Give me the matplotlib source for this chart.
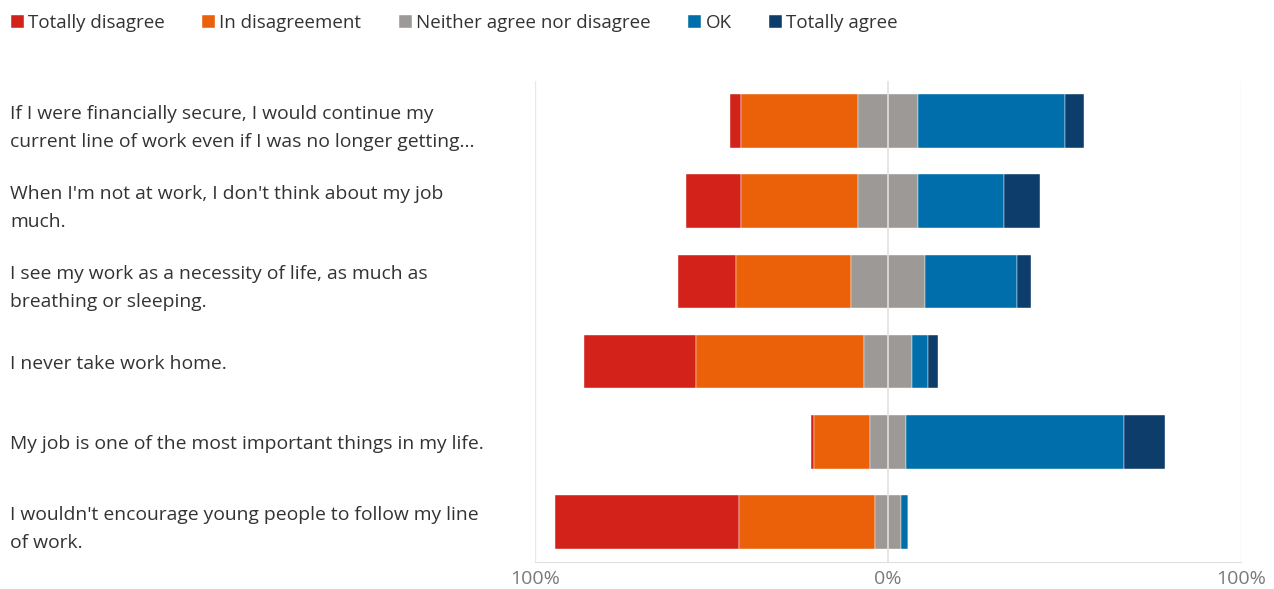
import matplotlib
matplotlib.use("Agg")
import numpy as np
import matplotlib.pyplot as plt

plt.rcParams["font.family"] = ["Open Sans", "DejaVu Sans"]

# Likert answers, in percent of respondents per statement
statements = [
    "If I were financially secure, I would continue my\ncurrent line of work even if I was no longer getting...",
    "When I'm not at work, I don't think about my job\nmuch.",
    "I see my work as a necessity of life, as much as\nbreathing or sleeping.",
    "I never take work home.",
    "My job is one of the most important things in my life.",
    "I wouldn't encourage young people to follow my line\nof work.",
]
levels = ["Totally disagree", "In disagreement", "Neither agree nor disagree", "OK", "Totally agree"]
totally_disagree = [3.0, 15.5, 16.5, 31.6, 0.7, 51.9]
disagree = [33.3, 33.3, 32.6, 47.6, 15.9, 38.6]
neutral = [16.9, 16.9, 20.7, 13.6, 10.4, 7.4]
agree = [41.8, 24.3, 26.3, 4.4, 61.7, 2.1]
totally_agree = [5.2, 10.2, 4.0, 3.1, 11.5, 0.0]

colors = ["#D2221A", "#EA610A", "#9C9997", "#006EAA", "#0D3D6B"]

td = np.array(totally_disagree)
dis = np.array(disagree)
neu = np.array(neutral)
agr = np.array(agree)
ta = np.array(totally_agree)

y = np.arange(len(statements))
h = 0.67

fig = plt.figure(figsize=(12.74, 5.89), dpi=100)
ax = fig.add_axes([535 / 1274, 27 / 589, 706 / 1274, 481 / 589])

# negative side grows left from the middle of the neutral block
left_neu = -neu / 2
left_dis = left_neu - dis
left_td = left_dis - td
left_agr = neu / 2
left_ta = left_agr + agr

segs = [(left_td, td), (left_dis, dis), (left_neu, neu), (left_agr, agr), (left_ta, ta)]
handles = []
for (lft, w), c, lab in zip(segs, colors, levels):
    b = ax.barh(y, w, left=lft, height=h, color=c, label=lab, zorder=2,
                edgecolor="white", linewidth=0.3)
    handles.append(b)

for xv in (-100, 100):
    ax.axvline(xv, color="#e8e8e8", lw=1, zorder=1)
ax.axvline(0, color="#e2e2e2", lw=1.2, zorder=3)

ax.set_xlim(-100, 100)
ax.set_ylim(len(statements) - 0.5, -0.5)
ax.set_xticks([-100, 0, 100])
ax.set_xticklabels(["100%", "0%", "100%"])
ax.tick_params(axis="x", length=0, pad=6, labelsize=14, labelcolor="#7a7a7a")
ax.set_yticks(y)
ax.set_yticklabels(statements, ha="left", fontsize=13.85, color="#333333",
                   linespacing=1.72)
# labels start 10 px from the figure's left edge
ax.tick_params(axis="y", length=0, pad=(535 - 10) * 72 / 100)
for s in ["top", "left", "right"]:
    ax.spines[s].set_visible(False)
ax.spines["bottom"].set_color("#e0e0e0")

fig.legend(handles=handles, labels=levels, loc="upper left",
           bbox_to_anchor=(-0.002, 0.998), ncol=5, frameon=False,
           fontsize=13.5, handlelength=0.7, handleheight=0.7,
           handletextpad=0.22, columnspacing=2.0, labelcolor="#333333",
           borderaxespad=0.3)

fig.savefig("out.png", dpi=100)
